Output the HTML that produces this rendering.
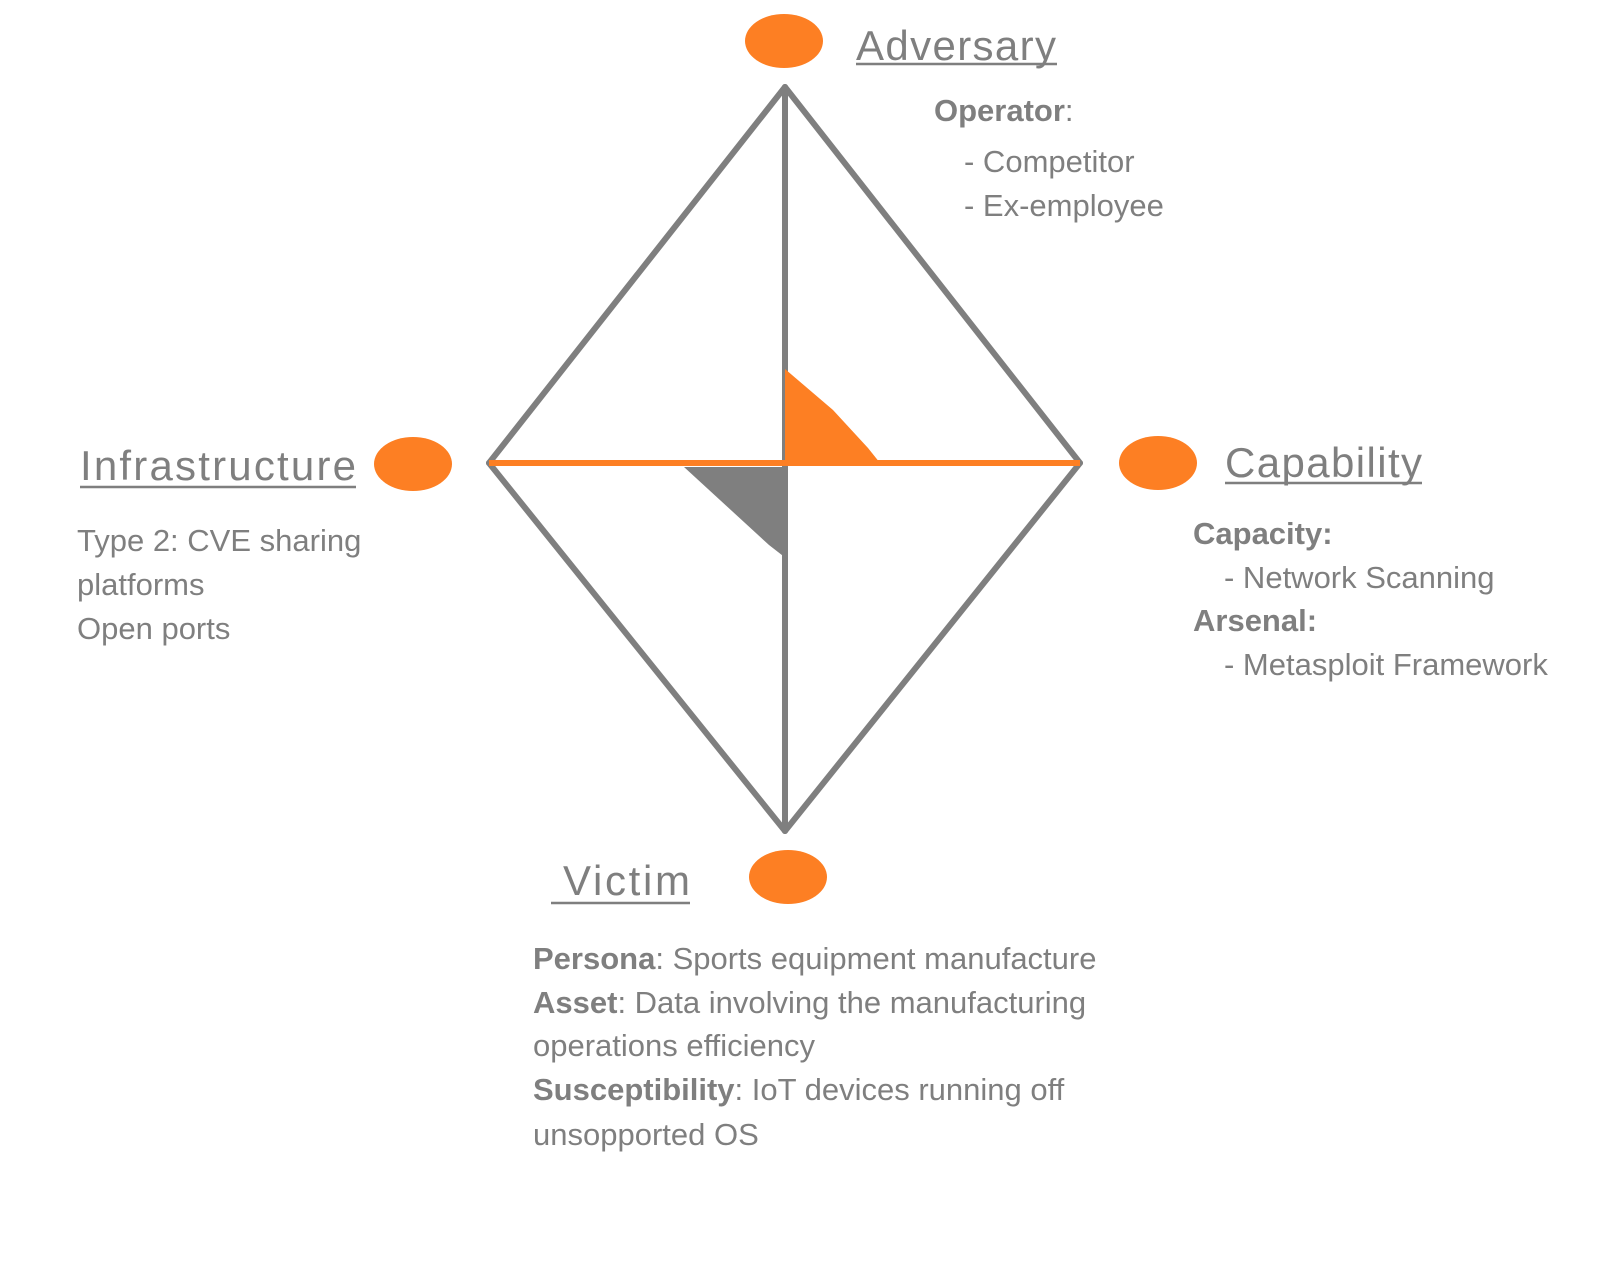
<!DOCTYPE html>
<html><head><meta charset="utf-8"><style>
html,body{margin:0;padding:0;background:#fff;}
svg{display:block}
text{font-family:"Liberation Sans",sans-serif;fill:#7f7f7f;}
.b{font-weight:bold}
</style></head><body>
<svg width="1600" height="1277" viewBox="0 0 1600 1277">
<g stroke="#7f7f7f" stroke-width="6" fill="none" stroke-linecap="round">
<line x1="785" y1="87" x2="489" y2="463"/>
<line x1="785" y1="87" x2="1080" y2="463"/>
<line x1="489" y1="463" x2="785" y2="831"/>
<line x1="1080" y1="463" x2="785" y2="831"/>
<line x1="785" y1="87" x2="785" y2="831"/>
</g>
<polygon points="785,369 785,463 880,463 868,448 833,410" fill="#fd7f23"/>
<polygon points="684,467 787,467 787,559 769,545" fill="#7f7f7f"/>
<line x1="489" y1="463" x2="1080" y2="463" stroke="#fd7f23" stroke-width="6"/>
<g fill="#fd7f23">
<ellipse cx="784" cy="41" rx="39" ry="27"/>
<ellipse cx="413" cy="464" rx="39" ry="27"/>
<ellipse cx="1158" cy="463" rx="39" ry="27"/>
<ellipse cx="788" cy="877" rx="39" ry="27"/>
</g>
<g stroke="#7f7f7f" stroke-width="2.5">
<line x1="856" y1="64" x2="1057" y2="64"/>
<line x1="80" y1="487" x2="356" y2="487"/>
<line x1="1225" y1="483" x2="1422" y2="483"/>
<line x1="551" y1="903" x2="690" y2="903"/>
</g>
<text x="856" y="60" font-size="42" textLength="200">Adversary</text>
<text x="80" y="480" font-size="42" textLength="276">Infrastructure</text>
<text x="1225" y="477" font-size="42" textLength="197">Capability</text>
<text x="563" y="895" font-size="42" textLength="127">Victim</text>
<g font-size="31">
<text x="934" y="121"><tspan class="b">Operator</tspan>:</text>
<text x="964" y="172">- Competitor</text>
<text x="964" y="216">- Ex-employee</text>
<text x="77" y="551">Type 2: CVE sharing</text>
<text x="77" y="595">platforms</text>
<text x="77" y="639">Open ports</text>
<text x="1193" y="544" class="b">Capacity:</text>
<text x="1224" y="588">- Network Scanning</text>
<text x="1193" y="631" class="b">Arsenal:</text>
<text x="1224" y="675">- Metasploit Framework</text>
<text x="533" y="969"><tspan class="b">Persona</tspan>: Sports equipment manufacture</text>
<text x="533" y="1013"><tspan class="b">Asset</tspan>: Data involving the manufacturing</text>
<text x="533" y="1056">operations efficiency</text>
<text x="533" y="1100"><tspan class="b">Susceptibility</tspan>: IoT devices running off</text>
<text x="533" y="1145">unsopported OS</text>
</g>
</svg>
</body></html>
